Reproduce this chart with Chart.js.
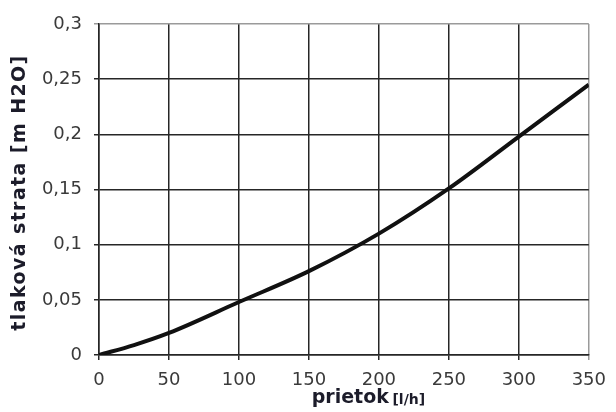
<!DOCTYPE html>
<html>
<head>
<meta charset="utf-8">
<script src="https://cdn.jsdelivr.net/npm/chart.js@4"></script>
<style>
  html, body { margin: 0; padding: 0; background: #fff; }
  #wrap { width: 616px; height: 412px; }
</style>
</head>
<body>
<div id="wrap"><canvas id="myChart" width="616" height="412"></canvas></div>
<script>
"use strict";

const flow = [0, 25, 50, 100, 150, 200, 250, 300, 350];
const pressureLoss = [0, 0.009, 0.02, 0.048, 0.076, 0.11, 0.151, 0.198, 0.245];
const xTitleMain = 'prietok';
const xTitleUnit = '[l/h]';
const yTitle = 'tlaková strata [m H2O]';

const points = flow.map((x, i) => ({x, y: pressureLoss[i]}));
const FONT = '"DejaVu Sans", Verdana, sans-serif';
const TITLE_COLOR = '#1c1c2a';

function commaNum(v) {
    return String(Math.round(v * 100) / 100).replace('.', ',');
}

// both axis titles drawn by hand (mixed sizes, letter spacing)
const titlesPlugin = {
    id: 'axisTitles',
    afterDraw(chart) {
        const ctx = chart.ctx;
        const area = chart.chartArea;
        ctx.save();
        ctx.fillStyle = TITLE_COLOR;
        ctx.textBaseline = 'middle';

        // x title
        ctx.font = 'bold 19px ' + FONT;
        const w1 = ctx.measureText(xTitleMain + ' ').width;
        ctx.font = 'bold 14px ' + FONT;
        const w2 = ctx.measureText(xTitleUnit).width;
        const x = (area.left + area.right) / 2 + 26 - (w1 + w2) / 2;
        ctx.font = 'bold 19px ' + FONT;
        ctx.fillText(xTitleMain, x, 398);
        ctx.font = 'bold 14px ' + FONT;
        ctx.fillText(xTitleUnit, x + w1 - 3, 400);

        // y title
        ctx.translate(20, (area.top + area.bottom) / 2 + 3);
        ctx.rotate(-Math.PI / 2);
        ctx.font = 'bold 19px ' + FONT;
        ctx.letterSpacing = '1.4px';
        ctx.textAlign = 'center';
        ctx.fillText(yTitle, 0, 0);
        ctx.restore();
    }
};

Chart.defaults.font.family = FONT;
Chart.defaults.font.size = 18;
Chart.defaults.color = '#3a3a3a';

function gridColor(max) {
    return c => (c.tick && c.tick.value === max ? '#9a9a9a' : '#262626');
}

new Chart(document.getElementById('myChart'), {
    type: 'line',
    data: {
        datasets: [{
            data: points,
            borderColor: '#111',
            borderWidth: 4,
            pointRadius: 0,
            cubicInterpolationMode: 'monotone',
            fill: false,
        }]
    },
    options: {
        responsive: false,
        animation: false,
        layout: { padding: { left: 0, right: 25, top: 24, bottom: 0 } },
        plugins: { legend: { display: false }, tooltip: { enabled: false } },
        scales: {
            x: {
                type: 'linear',
                min: 0,
                max: 350,
                ticks: { stepSize: 50, padding: 10, font: { size: 18 } },
                grid: { color: gridColor(350), lineWidth: 1.5, tickLength: 5 },
                border: { color: '#262626', width: 1.5 },
                afterFit(scale) { scale.height = 57; }
            },
            y: {
                min: 0,
                max: 0.3,
                ticks: { stepSize: 0.05, padding: 12, font: { size: 18 }, callback: v => commaNum(v) },
                grid: { color: gridColor(0.3), lineWidth: 1.5, tickLength: 5 },
                border: { color: '#262626', width: 1.5 },
                afterFit(scale) { scale.width = 99; }
            }
        }
    },
    plugins: [titlesPlugin]
});
</script>
</body>
</html>
